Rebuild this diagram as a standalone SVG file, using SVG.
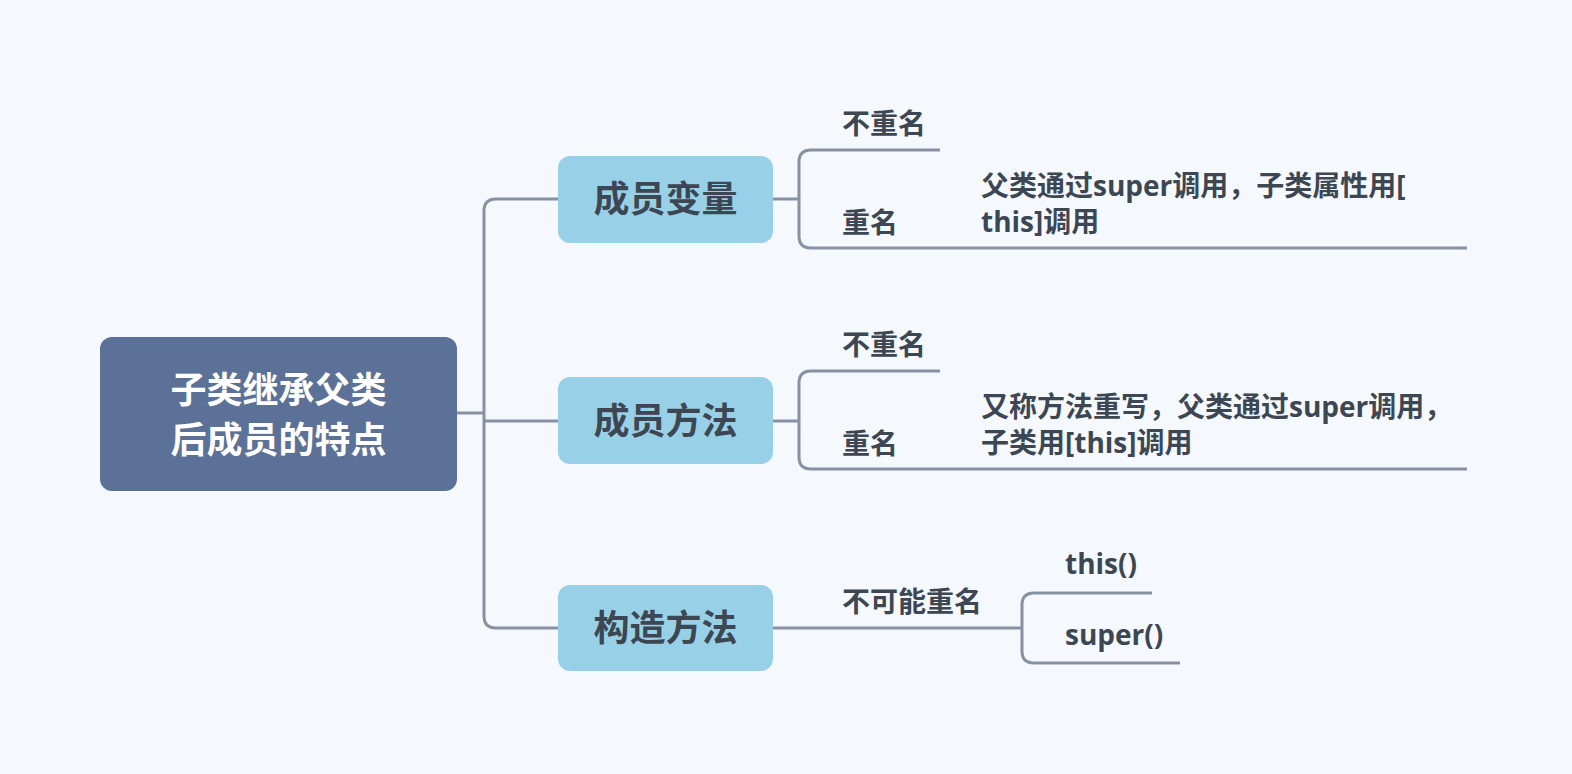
<svg xmlns="http://www.w3.org/2000/svg" width="1572" height="774" viewBox="0 0 1572 774">
<style>
.bg{fill:#f5f9fd}
.root{fill:#5b7197}
.branch{fill:#98d1e7}
.conn{fill:none;stroke:#8891a3;stroke-width:3;stroke-linecap:butt}
text{font-family:"Open Sans","Noto Sans CJK SC",sans-serif;font-weight:700}
.rt{fill:#ffffff;font-size:36px;text-anchor:middle}
.bt{fill:#3d4753;font-size:36px;text-anchor:middle}
.lt{fill:#3d4753;font-size:28px}
</style>
<rect class="bg" x="0" y="0" width="1572" height="774"/>
<g id="connectors">
<path class="conn" d="M457 413 H484"/>
<path class="conn" d="M558 199 H496 Q484 199 484 211 V616 Q484 628 496 628 H558"/>
<path class="conn" d="M484 421 H558"/>
<path class="conn" d="M773 199 H799"/>
<path class="conn" d="M940 150 H811 Q799 150 799 162 V236 Q799 248 811 248 H1467"/>
<path class="conn" d="M773 421 H799"/>
<path class="conn" d="M940 371 H811 Q799 371 799 383 V457 Q799 469 811 469 H1467"/>
<path class="conn" d="M773 628 H1022"/>
<path class="conn" d="M1152 593 H1034 Q1022 593 1022 605 V651 Q1022 663 1034 663 H1180"/>
</g>
<g id="root">
<rect class="root" x="100" y="337" width="357" height="154" rx="12"/>
<text class="rt" x="278.5" y="403">子类继承父类</text>
<text class="rt" x="278.5" y="453">后成员的特点</text>
</g>
<g id="member-var">
<rect class="branch" x="558" y="156" width="215" height="87" rx="12"/>
<text class="bt" x="665.5" y="212">成员变量</text>
</g>
<g id="member-method">
<rect class="branch" x="558" y="377" width="215" height="87" rx="12"/>
<text class="bt" x="665.5" y="434">成员方法</text>
</g>
<g id="constructor">
<rect class="branch" x="558" y="585" width="215" height="86" rx="12"/>
<text class="bt" x="665.5" y="641">构造方法</text>
</g>
<g id="var-noname">
<text class="lt" x="842" y="134">不重名</text>
</g>
<g id="var-samename">
<text class="lt" x="842" y="233">重名</text>
</g>
<g id="var-samename-desc">
<text class="lt" x="981" y="196">父类通过super调用，子类属性用[</text>
<text class="lt" x="981" y="232">this]调用</text>
</g>
<g id="method-noname">
<text class="lt" x="842" y="355">不重名</text>
</g>
<g id="method-samename">
<text class="lt" x="842" y="454">重名</text>
</g>
<g id="method-samename-desc">
<text class="lt" x="981" y="417">又称方法重写，父类通过super调用，</text>
<text class="lt" x="981" y="453">子类用[this]调用</text>
</g>
<g id="ctor-label">
<text class="lt" x="842" y="612">不可能重名</text>
</g>
<g id="ctor-this">
<text class="lt" x="1065" y="574">this()</text>
</g>
<g id="ctor-super">
<text class="lt" x="1065" y="645">super()</text>
</g>
</svg>
